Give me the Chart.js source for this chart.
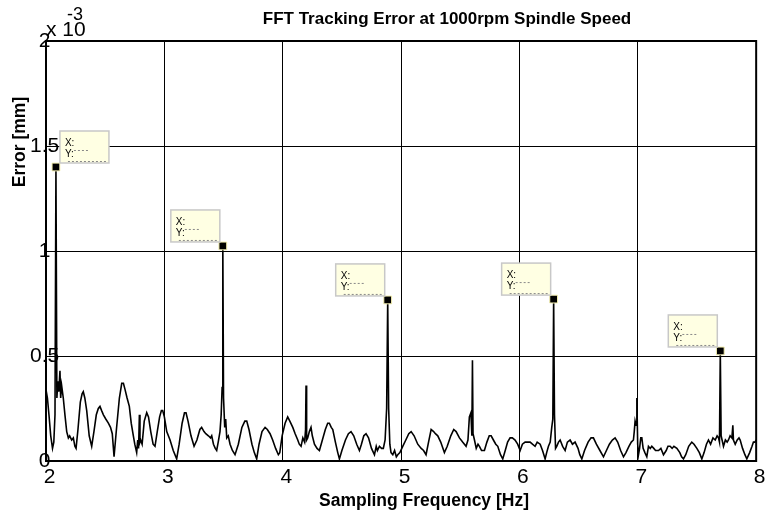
<!DOCTYPE html>
<html><head><meta charset="utf-8">
<script src="https://cdn.jsdelivr.net/npm/chart.js@4.4.0/dist/chart.umd.min.js"></script>
<style>html,body{margin:0;padding:0;background:#fff;}canvas{display:block;}</style>
</head><body>
<canvas id="c" width="766" height="516"></canvas>
<script>
// Frequency [Hz] and error values (in units of 10^-3 mm)
const freqHz = [
2.000,2.012,2.025,2.040,2.055,2.066,2.076,2.084,2.092,2.100,2.108,2.118,2.124,2.132,2.146,2.160,2.175,2.189,2.200,2.217,
2.231,2.244,2.254,2.270,2.290,2.305,2.315,2.328,2.344,2.365,2.386,2.405,2.425,2.442,2.456,2.470,2.485,2.505,2.527,2.545,
2.560,2.575,2.595,2.620,2.640,2.654,2.668,2.685,2.704,2.720,2.738,2.750,2.766,2.775,2.782,2.789,2.794,2.800,2.812,2.830,
2.851,2.866,2.885,2.905,2.921,2.940,2.960,2.975,2.986,3.000,3.020,3.048,3.075,3.104,3.125,3.150,3.170,3.183,3.200,3.225,
3.251,3.275,3.300,3.315,3.335,3.350,3.372,3.390,3.400,3.415,3.430,3.442,3.455,3.470,3.480,3.488,3.494,3.500,3.510,3.518,
3.527,3.540,3.555,3.575,3.597,3.625,3.655,3.680,3.696,3.715,3.740,3.760,3.780,3.800,3.825,3.851,3.870,3.893,3.915,3.940,
3.963,3.975,3.995,4.020,4.042,4.060,4.085,4.105,4.127,4.140,4.155,4.170,4.185,4.193,4.197,4.202,4.211,4.225,4.239,4.250,
4.268,4.290,4.310,4.335,4.360,4.380,4.394,4.410,4.423,4.445,4.465,4.479,4.500,4.530,4.555,4.577,4.600,4.625,4.648,4.665,
4.685,4.704,4.725,4.750,4.775,4.790,4.800,4.817,4.835,4.850,4.865,4.878,4.887,4.895,4.905,4.915,4.930,4.945,4.960,4.972,
4.990,5.014,5.040,5.065,5.085,5.110,5.141,5.170,5.190,5.211,5.232,5.254,5.275,5.290,5.310,5.335,5.366,5.390,5.420,5.445,
5.465,5.493,5.520,5.549,5.565,5.577,5.590,5.598,5.603,5.608,5.620,5.635,5.650,5.662,5.680,5.704,5.725,5.745,5.761,5.780,
5.800,5.817,5.840,5.859,5.880,5.900,5.921,5.940,5.963,5.985,6.006,6.025,6.048,6.070,6.090,6.110,6.132,6.150,6.175,6.195,
6.217,6.230,6.245,6.260,6.273,6.282,6.289,6.296,6.305,6.315,6.330,6.344,6.365,6.386,6.405,6.428,6.448,6.470,6.495,6.510,
6.527,6.550,6.580,6.605,6.625,6.650,6.680,6.710,6.735,6.760,6.785,6.808,6.830,6.855,6.879,6.900,6.925,6.945,6.963,6.970,
6.977,6.985,6.992,6.999,7.006,7.015,7.025,7.034,7.045,7.060,7.076,7.090,7.105,7.118,7.135,7.150,7.175,7.195,7.217,7.240,
7.255,7.273,7.290,7.305,7.330,7.355,7.370,7.386,7.405,7.430,7.456,7.475,7.499,7.520,7.541,7.560,7.580,7.597,7.615,7.635,
7.654,7.670,7.682,7.690,7.697,7.704,7.712,7.724,7.740,7.755,7.766,7.780,7.795,7.803,7.808,7.823,7.840,7.855,7.865,7.885,
7.905,7.921,7.945,7.965,7.977,7.990,8.000];
const errorE3 = [
0.34,0.30,0.22,0.12,0.06,0.09,0.22,1.40,0.30,0.38,0.33,0.43,0.30,0.36,0.30,0.22,0.14,0.11,0.12,0.10,
0.11,0.07,0.06,0.15,0.28,0.32,0.33,0.30,0.24,0.12,0.07,0.14,0.22,0.25,0.26,0.24,0.22,0.20,0.18,0.16,
0.13,0.02,0.15,0.30,0.37,0.37,0.34,0.30,0.26,0.18,0.12,0.08,0.04,0.10,0.06,0.22,0.09,0.10,0.08,0.19,
0.23,0.21,0.14,0.08,0.07,0.14,0.21,0.24,0.24,0.21,0.14,0.10,0.05,0.01,0.08,0.18,0.23,0.23,0.19,0.12,
0.07,0.10,0.15,0.16,0.14,0.13,0.12,0.11,0.12,0.08,0.06,0.05,0.09,0.14,0.22,0.35,1.024,0.30,0.16,0.20,
0.11,0.12,0.08,0.05,0.03,0.08,0.16,0.19,0.19,0.15,0.08,0.04,0.01,0.08,0.14,0.16,0.15,0.13,0.10,0.06,
0.03,0.04,0.12,0.18,0.21,0.19,0.16,0.13,0.10,0.08,0.07,0.11,0.09,0.15,0.36,0.10,0.11,0.14,0.16,0.12,
0.08,0.06,0.05,0.10,0.15,0.18,0.18,0.16,0.15,0.09,0.04,0.01,0.05,0.10,0.13,0.14,0.12,0.08,0.05,0.08,
0.12,0.13,0.11,0.06,0.03,0.07,0.05,0.07,0.06,0.06,0.10,0.25,0.767,0.25,0.08,0.04,0.03,0.05,0.02,0.03,
0.04,0.07,0.10,0.13,0.14,0.12,0.08,0.06,0.05,0.03,0.09,0.15,0.14,0.13,0.12,0.09,0.04,0.07,0.12,0.15,
0.14,0.11,0.09,0.07,0.10,0.21,0.23,0.12,0.48,0.13,0.10,0.06,0.08,0.07,0.05,0.05,0.09,0.12,0.12,0.10,
0.08,0.07,0.03,0.01,0.05,0.09,0.11,0.11,0.10,0.08,0.05,0.08,0.09,0.09,0.09,0.08,0.07,0.09,0.08,0.05,
0.01,0.04,0.07,0.09,0.16,0.20,0.771,0.22,0.06,0.07,0.09,0.10,0.07,0.05,0.09,0.10,0.08,0.09,0.06,0.03,
0.01,0.05,0.09,0.11,0.11,0.08,0.05,0.02,0.05,0.08,0.10,0.11,0.09,0.05,0.02,0.04,0.07,0.09,0.10,0.14,
0.19,0.17,0.30,0.08,0.03,0.06,0.11,0.11,0.06,0.04,0.02,0.07,0.06,0.07,0.06,0.05,0.05,0.06,0.03,0.05,
0.07,0.07,0.06,0.07,0.06,0.04,0.02,0.01,0.03,0.07,0.09,0.08,0.06,0.04,0.01,0.04,0.08,0.10,0.08,0.11,
0.10,0.12,0.11,0.09,0.524,0.12,0.10,0.07,0.10,0.09,0.10,0.12,0.11,0.17,0.10,0.08,0.10,0.11,0.10,0.06,
0.03,0.01,0.04,0.07,0.09,0.09,0.10];

// Data-tip peaks
const peakHz  = [2.084, 3.494, 4.887, 6.289, 7.697];
const peakErr = [1.40, 1.024, 0.767, 0.771, 0.524];

// Axis ticks
const xTicks = [2, 3, 4, 5, 6, 7, 8];
const xTickLabels = ['2', '3', '4', '5', '6', '7', '8'];
const yTicks = [0, 0.5, 1, 1.5, 2];
const yTickLabels = ['0', '0.5', '1', '1.5', '2'];

const chartTitle = 'FFT Tracking Error at 1000rpm Spindle Speed';
const xTitle = 'Sampling Frequency [Hz]';
const yTitle = 'Error [mm]';
const expBase = 'x 10';
const expPow = '-3';

const FONT = "'Liberation Sans', Arial, Helvetica, sans-serif";

const overlay = {
  id: 'overlay',
  afterDraw(chart) {
    const { ctx, chartArea: a, scales } = chart;
    const xs = scales.x, ys = scales.y;
    ctx.save();
    // frame
    ctx.strokeStyle = '#000';
    ctx.lineWidth = 2;
    ctx.strokeRect(a.left, a.top, a.right - a.left, a.bottom - a.top);

    // data tips
    peakHz.forEach((hz, i) => {
      const px = xs.getPixelForValue(hz);
      const py = ys.getPixelForValue(peakErr[i]);
      const w = 49, h = 32;
      let left = px - 52;
      if (left < a.left + 5) left = px + 4;
      const top = py - 36;
      ctx.fillStyle = '#ffffe3';
      ctx.fillRect(left, top, w, h);
      ctx.strokeStyle = '#c8c8c8';
      ctx.lineWidth = 1.5;
      ctx.strokeRect(left, top, w, h);
      ctx.fillStyle = '#000';
      ctx.font = '10px ' + FONT;
      ctx.textAlign = 'left';
      ctx.textBaseline = 'alphabetic';
      ctx.fillText('X:', left + 5, top + 15);
      ctx.fillText('Y:', left + 5, top + 26);
      ctx.strokeStyle = '#888';
      ctx.lineWidth = 1;
      ctx.setLineDash([2, 2]);
      ctx.beginPath();
      ctx.moveTo(left + 14, top + 19.5);
      ctx.lineTo(left + 29, top + 19.5);
      ctx.moveTo(left + 8, top + h - 1.5);
      ctx.lineTo(left + w - 2, top + h - 1.5);
      ctx.stroke();
      ctx.setLineDash([]);
    });

    // titles
    ctx.fillStyle = '#000';
    ctx.textAlign = 'center';
    ctx.textBaseline = 'middle';
    ctx.font = 'bold 17px ' + FONT;
    ctx.fillText(chartTitle, 447, 19);
    ctx.font = 'bold 17.5px ' + FONT;
    ctx.fillText(xTitle, 424, 501);
    ctx.save();
    ctx.translate(20, 142);
    ctx.rotate(-Math.PI / 2);
    ctx.fillText(yTitle, 0, 0);
    ctx.restore();

    // exponent label
    ctx.textAlign = 'left';
    ctx.textBaseline = 'alphabetic';
    ctx.font = '21px ' + FONT;
    ctx.fillText(expBase, 46, 36);
    ctx.font = '18px ' + FONT;
    ctx.fillText(expPow, 67, 20);
    ctx.restore();
  }
};

new Chart(document.getElementById('c'), {
  type: 'line',
  data: {
    datasets: [
      {
        type: 'scatter',
        data: peakHz.map((v, i) => ({ x: v, y: peakErr[i] })),
        pointStyle: 'rect',
        pointRadius: 5.5,
        backgroundColor: '#000',
        borderColor: '#f5f0b0',
        borderWidth: 1,
        order: 0
      },
      {
        data: freqHz.map((v, i) => ({ x: v, y: errorE3[i] })),
        borderColor: '#000',
        borderWidth: 1.6,
        pointRadius: 0,
        tension: 0,
        fill: false,
        order: 1
      }
    ]
  },
  options: {
    responsive: false,
    animation: false,
    events: [],
    layout: { padding: { top: 41, right: 9, left: 0, bottom: 0 } },
    plugins: { legend: { display: false }, title: { display: false }, tooltip: { enabled: false } },
    scales: {
      x: {
        type: 'linear',
        min: 2, max: 8,
        afterBuildTicks: s => { s.ticks = xTicks.map(v => ({ value: v })); },
        afterFit: s => { s.height = 55; },
        grid: { color: '#000', lineWidth: 1, drawTicks: false },
        border: { display: false },
        ticks: {
          color: '#000',
          font: { family: FONT, size: 21 },
          padding: 4,
          labelOffset: 3.5,
          maxRotation: 0,
          autoSkip: false,
          callback: v => { const i = xTicks.indexOf(v); return i >= 0 ? xTickLabels[i] : ''; }
        }
      },
      y: {
        type: 'linear',
        min: 0, max: 2,
        afterBuildTicks: s => { s.ticks = yTicks.map(v => ({ value: v })); },
        afterFit: s => { s.width = 46; },
        grid: { color: '#000', lineWidth: 1, drawTicks: false },
        border: { display: false },
        ticks: {
          color: '#000',
          font: { family: FONT, size: 21 },
          mirror: true,
          padding: -16,
          crossAlign: 'center',
          autoSkip: false,
          callback: v => { const i = yTicks.indexOf(v); return i >= 0 ? yTickLabels[i] : ''; }
        }
      }
    }
  },
  plugins: [overlay]
});
</script>
</body></html>
